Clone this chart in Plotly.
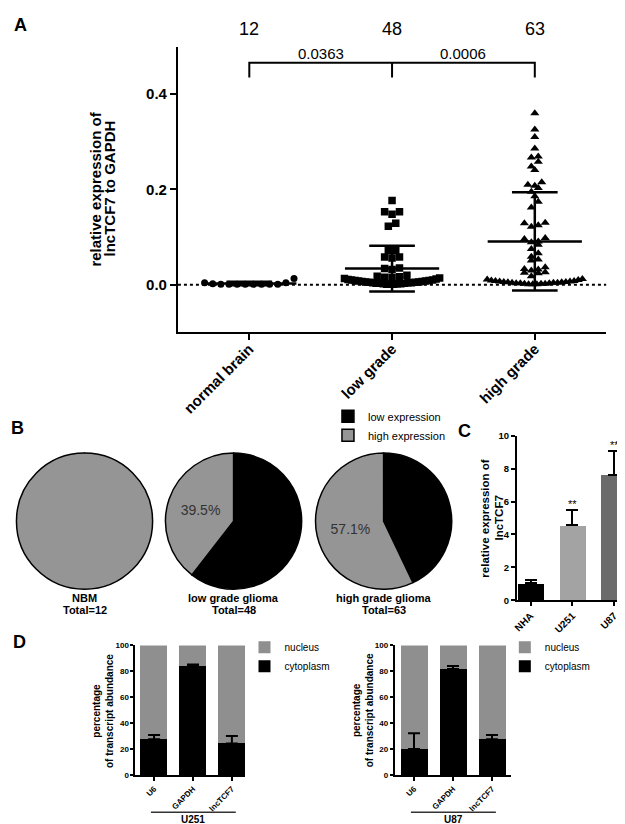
import numpy as np
import plotly.graph_objects as go

W, H = 625, 824

# ---------------- Panel A data ----------------
groups = ["normal brain", "low grade", "high grade"]
normal_brain = [0.004, 0.002, 0.001, 0.001, 0.001, 0.001, 0.001, 0.001, 0.001, 0.001, 0.004, 0.013]
low_grade = [0.177, 0.153, 0.153, 0.148, 0.129, 0.123, 0.073, 0.072, 0.072, 0.058, 0.058, 0.056,
             0.035, 0.034, 0.032,
             0.020, 0.018, 0.017, 0.016, 0.015, 0.014, 0.013, 0.012, 0.011, 0.010, 0.010, 0.009,
             0.009, 0.008, 0.008, 0.007, 0.007, 0.006, 0.006, 0.005, 0.005, 0.004, 0.004, 0.004,
             0.003, 0.003, 0.003, 0.002, 0.002, 0.002, 0.001, 0.001, 0.001]
high_grade = [0.360, 0.326, 0.310, 0.286, 0.269, 0.267, 0.258, 0.248, 0.241, 0.215, 0.210, 0.208,
              0.203, 0.195, 0.186, 0.174, 0.162, 0.130, 0.129, 0.125, 0.122, 0.098, 0.096, 0.091,
              0.089, 0.084, 0.075, 0.066, 0.059, 0.053, 0.051, 0.037, 0.033, 0.032, 0.030, 0.026,
              0.025, 0.024, 0.018,
              0.012, 0.011, 0.010, 0.009, 0.008, 0.008, 0.007, 0.007, 0.006, 0.006, 0.005, 0.005,
              0.004, 0.004, 0.004, 0.003, 0.003, 0.003, 0.002, 0.002, 0.002, 0.001, 0.001, 0.001]
p_values = ["0.0363", "0.0006"]
a_yticks = [0.0, 0.2, 0.4]
a_title_lines = ["relative expression of", "lncTCF7 to GAPDH"]

# ---------------- Panel B data ----------------
pie_names = ["NBM", "low grade glioma", "high grade glioma"]
pie_totals = [12, 48, 63]
pie_high_pct = [100.0, 39.5, 57.1]
pie_labels = ["low expression", "high expression"]

# ---------------- Panel C data ----------------
cell_lines = ["NHA", "U251", "U87"]
c_mean = [1.03, 4.55, 7.62]
c_err = [0.22, 0.94, 1.47]
c_sig = ["", "**", "**"]
c_title_lines = ["relative expression of", "lncTCF7"]

# ---------------- Panel D data ----------------
d_genes = ["U6", "GAPDH", "lncTCF7"]
d_u251_cyto = [27.9, 84.0, 24.6]
d_u251_err = [3.2, 1.3, 5.8]
d_u87_cyto = [20.3, 81.8, 27.9]
d_u87_err = [12.1, 2.3, 3.2]

FONT = "Arial, Liberation Sans, sans-serif"


def X(p):
    return p / W


def Y(p):
    return 1 - p / H


def swarm(values, row_px, spacing_px, maxw_px, xs=144.0, ys=481.5):
    """Column-scatter layout: points binned in rows of row_px height; each row laid out
    symmetrically around the column centre, compressed to fit maxw_px."""
    vals = np.asarray(values, float)
    bins = np.floor(vals * ys / row_px).astype(int)
    offs = np.zeros(len(vals))
    for b in np.unique(bins):
        idx = [i for i in np.argsort(vals, kind="stable") if bins[i] == b]
        n = len(idx)
        if n == 1:
            continue
        sp = min(spacing_px, maxw_px / (n - 1))
        pos = sorted([(j - (n - 1) / 2) * sp for j in range(n)], key=lambda p: (round(abs(p), 6), p))
        for i, p in zip(idx, pos):
            offs[i] = p / xs
    return offs


fig = go.Figure()

# ---------------- Panel A ----------------
specs = [(normal_brain, "circle", 7, 8.2), (low_grade, "square", 7.5, 7.5), (high_grade, "triangle-up", 8, 7.0)]
for i, (vals, sym, size, sp) in enumerate(specs):
    offs = swarm(vals, 7.0, sp, 96)
    fig.add_trace(go.Scatter(x=i + offs, y=vals, mode="markers",
                             marker=dict(symbol=sym, size=size, color="black", line=dict(width=0)),
                             xaxis="x", yaxis="y", showlegend=False, hoverinfo="skip"))
for i, vals in enumerate([normal_brain, low_grade, high_grade]):
    m = float(np.mean(vals))
    s = float(np.std(vals, ddof=1))
    fig.add_trace(go.Scatter(
        x=[i - 0.33, i + 0.33, None, i, i, None, i - 0.16, i + 0.16, None, i - 0.16, i + 0.16],
        y=[m, m, None, m - s, m + s, None, m + s, m + s, None, m - s, m - s],
        mode="lines", line=dict(color="black", width=2.5), xaxis="x", yaxis="y",
        showlegend=False, hoverinfo="skip"))

# bracket for comparisons
br_top, br_bot = 0.466, 0.435
fig.add_trace(go.Scatter(x=[0, 0, 2, 2, None, 1, 1], y=[br_bot, br_top, br_top, br_bot, None, br_top, br_bot],
                         mode="lines", line=dict(color="black", width=2), xaxis="x", yaxis="y",
                         showlegend=False, hoverinfo="skip"))

# dotted zero line
fig.add_shape(type="line", xref="x domain", yref="y", x0=0, x1=1, y0=0, y1=0,
              line=dict(color="black", width=2, dash="dot"))

annotations = []
for i, vals in enumerate([normal_brain, low_grade, high_grade]):
    annotations.append(dict(x=i, xref="x", y=Y(15), yref="paper", text=str(len(vals)), showarrow=False,
                            font=dict(size=18, color="black"), xanchor="center", yanchor="middle"))
for j, p in enumerate(p_values):
    annotations.append(dict(x=j + 0.5, xref="x", y=Y(40), yref="paper", text=p, showarrow=False,
                            font=dict(size=15, color="black"), xanchor="center", yanchor="middle"))
for xc, line in zip([84.5, 98.5], a_title_lines):
    annotations.append(dict(x=X(xc), y=Y(177), xref="paper", yref="paper", textangle=-90,
                            text=line, showarrow=False, borderpad=0,
                            font=dict(size=15, color="black", weight="bold"),
                            xanchor="center", yanchor="middle"))

# ---------------- Panel B (pies) ----------------
pie_cx = [73, 223, 374]
pie_cy, pie_r = 514, 69
for k in range(3):
    hi = pie_high_pct[k]
    vals = [100 - hi, hi]
    txt = ["", "" if hi >= 100 else f"{hi}%"]
    fig.add_trace(go.Pie(
        values=vals, labels=pie_labels, sort=False, direction="clockwise", rotation=0,
        marker=dict(colors=["#000000", "#959595"], line=dict(color="black", width=1.5)),
        text=txt, textinfo="text", textposition="inside", insidetextorientation="horizontal",
        textfont=dict(size=14, color="#333333"), hoverinfo="skip",
        domain=dict(x=[X(pie_cx[k] - pie_r), X(pie_cx[k] + pie_r)],
                    y=[Y(pie_cy + pie_r), Y(pie_cy - pie_r)]),
        showlegend=(k == 1), legend="legend"))
    annotations.append(dict(x=X(pie_cx[k]), y=Y(591.5), xref="paper", yref="paper", text=pie_names[k],
                            showarrow=False, font=dict(size=11, color="black", weight="bold"),
                            xanchor="center", yanchor="middle"))
    annotations.append(dict(x=X(pie_cx[k]), y=Y(604), xref="paper", yref="paper",
                            text=f"Total={pie_totals[k]}", showarrow=False,
                            font=dict(size=11, color="black", weight="bold"),
                            xanchor="center", yanchor="middle"))

# ---------------- Panel C ----------------
fig.add_trace(go.Bar(x=list(range(3)), y=c_mean, width=0.62,
                     marker=dict(color=["#000000", "#a3a3a3", "#6b6b6b"], line=dict(width=0)),
                     error_y=dict(type="data", array=c_err, arrayminus=[0, 0, 0], symmetric=False,
                                  color="black", thickness=2, width=6),
                     xaxis="x2", yaxis="y2", showlegend=False, hoverinfo="skip"))
for i in range(3):
    if c_sig[i]:
        annotations.append(dict(x=i, xref="x2", y=c_mean[i] + c_err[i], yref="y2", text=c_sig[i],
                                showarrow=False, font=dict(size=11, color="black"),
                                xanchor="center", yanchor="bottom", yshift=-2))
for xc, line in zip([476.5, 490.5], c_title_lines):
    annotations.append(dict(x=X(xc), y=Y(511), xref="paper", yref="paper", textangle=-90,
                            text=line, showarrow=False, borderpad=0,
                            font=dict(size=11.5, color="black", weight="bold"),
                            xanchor="center", yanchor="middle"))

# ---------------- Panel D ----------------
for (cyto, err, xa, ya, lg) in [(d_u251_cyto, d_u251_err, "x3", "y3", "legend2"),
                                (d_u87_cyto, d_u87_err, "x4", "y4", "legend3")]:
    fig.add_trace(go.Bar(x=list(range(3)), y=cyto, width=0.7, name="cytoplasm",
                         marker=dict(color="black", line=dict(width=0)),
                         xaxis=xa, yaxis=ya, legend=lg, hoverinfo="skip"))
    fig.add_trace(go.Bar(x=list(range(3)), y=[100 - c for c in cyto], width=0.7, name="nucleus",
                         marker=dict(color="#8f8f8f", line=dict(width=0)),
                         xaxis=xa, yaxis=ya, legend=lg, hoverinfo="skip"))
    fig.add_trace(go.Scatter(x=list(range(3)), y=cyto, mode="markers",
                             marker=dict(size=1, color="rgba(0,0,0,0)"),
                             error_y=dict(type="data", array=err, arrayminus=[0, 0, 0], symmetric=False,
                                          color="black", thickness=2, width=6),
                             xaxis=xa, yaxis=ya, showlegend=False, hoverinfo="skip"))

for (xc, cell, xa) in [(91, "U251", "x3"), (353, "U87", "x4")]:
    annotations.append(dict(x=X(xc), y=Y(706), xref="paper", yref="paper", textangle=-90,
                            text="percentage<br>of transcript abundance", showarrow=False,
                            font=dict(size=10, color="black", weight="bold"),
                            xanchor="center", yanchor="middle"))
    fig.add_shape(type="line", xref=xa, yref="paper", x0=-0.08, x1=2.1, y0=Y(809), y1=Y(809),
                  line=dict(color="#333333", width=1.5))
    annotations.append(dict(x=1, xref=xa, y=Y(816.5), yref="paper", text=cell, showarrow=False,
                            borderpad=0, font=dict(size=10, color="black", weight="bold"),
                            xanchor="center", yanchor="middle"))

# panel letters
for (lt, x, y) in [("A", 9, 11), ("B", 6, 420), ("C", 455, 423), ("D", 8, 637)]:
    annotations.append(dict(x=X(x), y=Y(y), xref="paper", yref="paper", text=lt, showarrow=False,
                            font=dict(size=18, color="black", weight="bold"),
                            xanchor="center", yanchor="middle"))

axis_common = dict(showgrid=False, zeroline=False, showline=True, linecolor="black", ticks="outside",
                   tickcolor="black")

fig.update_layout(
    width=W, height=H, margin=dict(l=0, r=0, t=0, b=0),
    paper_bgcolor="white", plot_bgcolor="white",
    font=dict(family=FONT, color="black"),
    barmode="stack", bargap=0,
    annotations=annotations,
    xaxis=dict(domain=[X(167), X(598)], range=[-0.5, 2.5], tickvals=[0, 1, 2], ticktext=groups,
               tickangle=-45, ticklen=6, tickwidth=2, linewidth=2, ticklabelstandoff=-6,
               tickfont=dict(size=15, weight="bold"), anchor="y", **axis_common),
    yaxis=dict(domain=[Y(322.7), Y(33)], range=[-0.1, 0.5], tickvals=a_yticks,
               ticktext=[f"{v:.1f}" for v in a_yticks], ticklen=6, tickwidth=2, linewidth=2,
               tickfont=dict(size=15, weight="bold"), anchor="x", **axis_common),
    xaxis2=dict(domain=[X(508), 1.0], range=[-0.333, 2.452], tickvals=[0, 1, 2], ticktext=cell_lines,
                tickangle=-45, ticklen=4, tickwidth=1.5, linewidth=1.5,
                tickfont=dict(size=10, weight="bold"), anchor="y2", **axis_common),
    yaxis2=dict(domain=[Y(594.3), Y(427.3)], range=[0, 10], dtick=2, ticklen=4, tickwidth=1.5,
                linewidth=1.5, tickfont=dict(size=9.5, weight="bold"), anchor="x2", **axis_common),
    xaxis3=dict(domain=[X(124), X(235)], range=[-0.485, 2.35], tickvals=[0, 1, 2], ticktext=d_genes,
                tickangle=-45, ticklen=4, tickwidth=1.5, linewidth=1.5,
                tickfont=dict(size=8, weight="bold"), anchor="y3", **axis_common),
    yaxis3=dict(domain=[Y(771.7), Y(640)], range=[0, 100], dtick=20, ticklen=3, tickwidth=1.5,
                linewidth=1.5, tickfont=dict(size=8, weight="bold"), anchor="x3", **axis_common),
    xaxis4=dict(domain=[X(385), X(502.7)], range=[-0.5, 2.5], tickvals=[0, 1, 2], ticktext=d_genes,
                tickangle=-45, ticklen=4, tickwidth=1.5, linewidth=1.5,
                tickfont=dict(size=8, weight="bold"), anchor="y4", **axis_common),
    yaxis4=dict(domain=[Y(771.7), Y(640)], range=[0, 100], dtick=20, ticklen=3, tickwidth=1.5,
                linewidth=1.5, tickfont=dict(size=8, weight="bold"), anchor="x4", **axis_common),
    legend=dict(x=X(318), y=Y(393), xanchor="left", yanchor="top", traceorder="normal",
                font=dict(size=11), bgcolor="rgba(0,0,0,0)", itemwidth=30),
    legend2=dict(x=X(234), y=Y(627), xanchor="left", yanchor="top", traceorder="reversed",
                 font=dict(size=10), bgcolor="rgba(0,0,0,0)", itemwidth=30),
    legend3=dict(x=X(496), y=Y(627), xanchor="left", yanchor="top", traceorder="reversed",
                 font=dict(size=10), bgcolor="rgba(0,0,0,0)", itemwidth=30),
)

fig.write_html("out.html")
